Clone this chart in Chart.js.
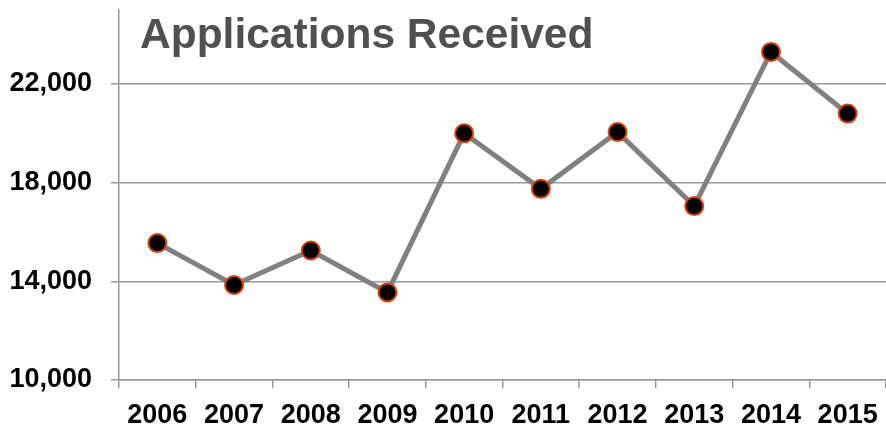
<!DOCTYPE html>
<html>
<head>
<meta charset="utf-8">
<script src="https://cdn.jsdelivr.net/npm/chart.js@4"></script>
<style>
  html, body { margin: 0; padding: 0; background: #fff; overflow: hidden; }
  canvas { display: block; }
</style>
</head>
<body>
<canvas id="chart" width="886" height="430"></canvas>
<script>
// ─── DATA ───
const years = ['2006', '2007', '2008', '2009', '2010', '2011', '2012', '2013', '2014', '2015'];
const applications = [15550, 13850, 15250, 13550, 20000, 17750, 20050, 17050, 23300, 20800];
const yTicks = [10000, 14000, 18000, 22000];
const yMin = 10000;
const yMax = 25000;
const chartTitle = 'Applications Received';

// title sits inside the plot area, top left
const innerTitle = {
    id: 'innerTitle',
    afterDraw(chart) {
        const ctx = chart.ctx;
        ctx.save();
        ctx.font = 'bold 42.5px "Liberation Sans", Arial, sans-serif';
        ctx.fillStyle = '#524f4f';
        ctx.textAlign = 'left';
        ctx.textBaseline = 'alphabetic';
        ctx.fillText(chartTitle, chart.chartArea.left + 21, 48);
        ctx.restore();
    }
};

new Chart(document.getElementById('chart'), {
    type: 'line',
    data: {
        labels: years,
        datasets: [{
            data: applications,
            borderColor: '#808080',
            borderWidth: 5,
            tension: 0,
            pointRadius: 9,
            pointHoverRadius: 9,
            pointBackgroundColor: '#000',
            pointBorderColor: '#d9400c',
            pointBorderWidth: 2,
            clip: false
        }]
    },
    options: {
        responsive: false,
        animation: false,
        // no auto padding for point overflow, plot runs to the right edge
        layout: { autoPadding: false, padding: { top: 10, right: 0, left: 0, bottom: 0 } },
        plugins: { legend: { display: false }, tooltip: { enabled: false } },
        scales: {
            x: {
                offset: true,
                grid: { offset: true, drawOnChartArea: false, tickLength: 8, color: '#999', lineWidth: 1.5 },
                border: { color: '#999', width: 1.5 },
                ticks: {
                    color: '#000',
                    padding: 11,
                    autoSkip: false,
                    maxRotation: 0,
                    font: { family: '"Liberation Sans", Arial, sans-serif', size: 27, weight: 'bold' }
                },
                afterFit(scale) {
                    scale.height = 50;
                    scale.paddingLeft = 0;
                    scale.paddingRight = 0;
                }
            },
            y: {
                min: yMin,
                max: yMax,
                afterBuildTicks(scale) { scale.ticks = yTicks.map(v => ({ value: v })); },
                grid: { tickLength: 8, color: '#999', lineWidth: 1.5 },
                border: { color: '#999', width: 1.5 },
                ticks: {
                    color: '#000',
                    padding: 19,
                    font: { family: '"Liberation Sans", Arial, sans-serif', size: 27, weight: 'bold' },
                    callback: v => v.toLocaleString('en-US')
                },
                afterFit(scale) {
                    scale.width = 119;
                    scale.paddingTop = 0;
                    scale.paddingBottom = 0;
                }
            }
        }
    },
    plugins: [innerTitle]
});
</script>
</body>
</html>
